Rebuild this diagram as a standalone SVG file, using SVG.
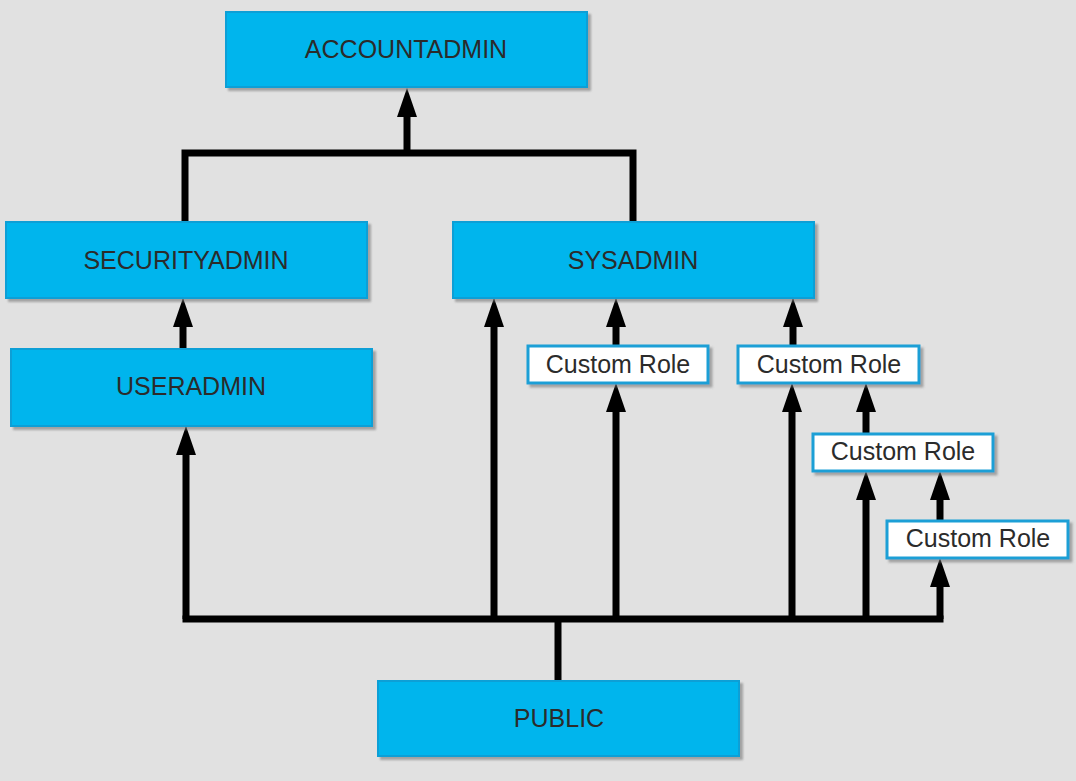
<svg xmlns="http://www.w3.org/2000/svg" width="1076" height="781" viewBox="0 0 1076 781">
<defs>
<filter id="sh" x="-5%" y="-10%" width="115%" height="130%">
<feDropShadow dx="3" dy="3" stdDeviation="1.2" flood-color="#6e6e6e" flood-opacity="0.55"/>
</filter>
<marker id="ah" viewBox="0 0 29 20" refX="17" refY="10" markerWidth="29" markerHeight="20" markerUnits="userSpaceOnUse" orient="auto">
<path d="M0,0 L29,10 L0,20 Z" fill="#000"/>
</marker>
</defs>
<style>
.role{fill:#00b5ed;stroke:#0e9fd6;stroke-width:2;filter:url(#sh)}
.custom{fill:#fff;stroke:#1a9fd6;stroke-width:3;filter:url(#sh)}
.lbl{font-family:"Liberation Sans",Arial,sans-serif;font-size:25px;fill:#2b2b2b;text-anchor:middle}
.ln{fill:none;stroke:#000;stroke-width:7}
.ar{fill:none;stroke:#000;stroke-width:7;marker-end:url(#ah)}
</style>
<rect width="1076" height="781" fill="#e1e1e1"/>
<g id="connectors">
<path class="ln" d="M185,222 V153 H633 V222" stroke-linejoin="miter"/>
<path class="ar" d="M407,153 V100"/>
<path class="ar" d="M183,349 V310"/>
<path class="ln" d="M186,619 H940" stroke-linecap="square"/>
<path class="ln" d="M558,619 V681"/>
<path class="ar" d="M186,619 V438"/>
<path class="ar" d="M494,619 V310"/>
<path class="ar" d="M616,346 V310"/>
<path class="ar" d="M793,346 V310"/>
<path class="ar" d="M616,619 V395"/>
<path class="ar" d="M792,619 V395"/>
<path class="ar" d="M866,434 V395"/>
<path class="ar" d="M866,619 V483"/>
<path class="ar" d="M940,521 V483"/>
<path class="ar" d="M940,619 V570"/>
</g>
<g id="accountadmin"><rect class="role" x="226" y="12" width="361" height="75"/><text class="lbl" x="406" y="58">ACCOUNTADMIN</text></g>
<g id="securityadmin"><rect class="role" x="6" y="222" width="361" height="76"/><text class="lbl" x="186" y="269">SECURITYADMIN</text></g>
<g id="sysadmin"><rect class="role" x="453" y="222" width="361" height="76"/><text class="lbl" x="633" y="269">SYSADMIN</text></g>
<g id="useradmin"><rect class="role" x="11" y="349" width="361" height="77"/><text class="lbl" x="191" y="395">USERADMIN</text></g>
<g id="public"><rect class="role" x="378" y="681" width="361" height="75"/><text class="lbl" x="559" y="727">PUBLIC</text></g>
<g id="custom1"><rect class="custom" x="528" y="346" width="180" height="37"/><text class="lbl" x="618" y="373">Custom Role</text></g>
<g id="custom2"><rect class="custom" x="738" y="346" width="181" height="37"/><text class="lbl" x="829" y="373">Custom Role</text></g>
<g id="custom3"><rect class="custom" x="813" y="434" width="180" height="37"/><text class="lbl" x="903" y="460">Custom Role</text></g>
<g id="custom4"><rect class="custom" x="887" y="521" width="181" height="37"/><text class="lbl" x="978" y="547">Custom Role</text></g>
</svg>
